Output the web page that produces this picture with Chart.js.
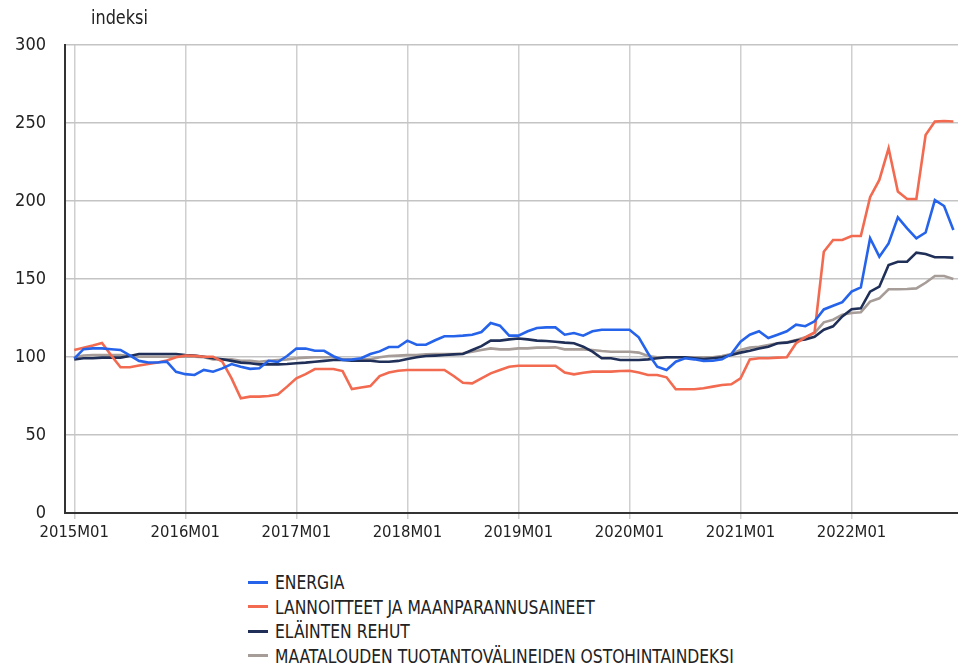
<!DOCTYPE html>
<html lang="fi">
<head>
<meta charset="utf-8">
<script src="https://cdn.jsdelivr.net/npm/chart.js@4"></script>
<style>
  body { margin: 0; background: #fff; width: 958px; height: 664px; overflow: hidden;
         font-family: 'DejaVu Sans Condensed', 'DejaVu Sans', sans-serif; color: #222; }
  #wrap { position: absolute; left: 0; top: 0; width: 958px; height: 560px; }
  #unit { position: absolute; left: 91px; top: 6px; font-size: 19px; transform: scaleX(0.94); transform-origin: left; }
  #legend { position: absolute; left: 248px; top: 570px; font-size: 19px; }
  .item { height: 24.5px; display: flex; align-items: center; }
  .sw { width: 20px; height: 3px; margin-right: 7px; }
  .tx { display: inline-block; transform: scaleX(0.91); transform-origin: left; white-space: nowrap; }
</style>
</head>
<body>
<div id="wrap"><canvas id="c"></canvas></div>
<div id="unit">indeksi</div>
<div id="legend"></div>
<script>
// year ticks (index of month from 2015M01) and their labels
const tickPos = [0, 12, 24, 36, 48, 60, 72, 84];
const tickLabels = ['2015M01', '2016M01', '2017M01', '2018M01', '2019M01', '2020M01', '2021M01', '2022M01'];
const yTicks = [0, 50, 100, 150, 200, 250, 300];

// monthly values 2015M01 .. 2022M12
const energia = [
  99, 105, 105.5, 105.5, 105, 104.5, 101, 97.5, 96.5, 96.5, 97, 90.5,
  89, 88.5, 91.7, 90.6, 92.7, 95.5, 93.8, 92.4, 92.8, 97.6, 96.8, 100.6,
  105.4, 105.4, 104, 104, 100.5, 98.1, 98.3, 99.2, 101.9, 103.6, 106.4, 106.4,
  110.5, 107.9, 107.9, 110.7, 113.3, 113.3, 113.7, 114.3, 116, 121.8, 120.1, 113.7,
  113.7, 116.5, 118.6, 119, 119, 114.3, 115.4, 113.7, 116.5, 117.5, 117.5, 117.5,
  117.5, 112.6, 102.4, 93.8, 91.7, 97, 99.2, 98.5, 97.5, 97.6, 98.5, 101.9,
  109.8, 114.3, 116.5, 112.2, 114.3, 116.5, 120.7, 119.7, 122.9, 130.5, 132.8, 135.2,
  141.9, 144.6, 176.1, 164.3, 172.8, 189.5, 182.5, 176.1, 179.8, 200.6, 196.8, 181.4
];
const lannoitteet = [
  104.5, 106, 107.4, 109, 101, 93.4, 93.4, 94.5, 95.5, 96.5, 97.7, 99.8,
  100.9, 100.7, 100.2, 100.2, 97, 86.3, 73.5, 74.6, 74.6, 75, 76, 81,
  86.3, 89, 92.3, 92.3, 92.3, 91, 79.5, 80.4, 81.4, 87.8, 90, 91.2,
  91.7, 91.7, 91.7, 91.7, 91.7, 87.8, 83.5, 83.1, 86.3, 89.5, 91.7, 93.8,
  94.4, 94.4, 94.4, 94.4, 94.4, 90, 88.9, 89.9, 90.6, 90.6, 90.6, 91,
  91.2, 90, 88.5, 88.5, 87, 79.3, 79.3, 79.3, 80, 81, 82.1, 82.5,
  86.3, 98.5, 99.2, 99.2, 99.6, 99.8, 108.8, 112.6, 115.8, 167.5, 175, 175,
  177.6, 177.6, 202.4, 213.5, 233.8, 206, 201.3, 201.3, 242.3, 250.9, 251.3, 251
];
const rehut = [
  98.5, 99.2, 99.2, 99.6, 99.6, 99.6, 100.6, 101.9, 101.9, 101.9, 101.9, 101.9,
  101.3, 100.9, 100.2, 99.2, 98.5, 97.5, 96.4, 96, 95.3, 95.3, 95.3, 95.5,
  96, 96.4, 97, 97.5, 98.1, 98.1, 97.6, 97.6, 97.6, 97, 97, 97.5,
  98.7, 99.8, 100.6, 100.9, 101.3, 101.7, 101.9, 104.5, 107, 110.5, 110.5, 111.3,
  111.9, 111.3, 110.5, 110.3, 109.8, 109.2, 108.8, 106.6, 103.4, 99.2, 99.2, 98.1,
  98.1, 98.1, 98.5, 99.2, 99.8, 99.8, 99.8, 99.2, 98.7, 99.2, 99.8, 101.3,
  102.8, 104, 105.5, 106.6, 108.8, 109.2, 110.5, 111.3, 113, 117.5, 119.7, 126,
  130.6, 131.2, 141.9, 145.1, 159, 161.1, 161.1, 166.9, 166, 163.9, 163.9, 163.7
];
const ostohinta = [
  99.8, 101, 101.3, 101.3, 101.3, 101.3, 100.6, 100.2, 100.2, 100.2, 100.2, 100.2,
  100.2, 100.2, 99.8, 98.5, 98.5, 98.5, 97.5, 97.5, 97, 97.5, 98, 98.5,
  99.2, 99.6, 99.8, 99.8, 99.8, 98.5, 98.5, 98.5, 98.5, 99.8, 100.6, 100.9,
  101.3, 101.3, 101.7, 101.9, 101.9, 101.9, 102.4, 103.4, 104.5, 105.5, 104.9, 104.9,
  105.5, 105.5, 106, 106, 106.2, 104.9, 104.9, 104.9, 104.5, 103.8, 103.4, 103.4,
  103.4, 102.8, 100.6, 99.8, 99.8, 99.8, 99.8, 99.8, 99.8, 99.8, 100.6, 101.9,
  104.5, 106, 106.6, 107.7, 108.8, 109.4, 110.9, 112.6, 115.4, 122.2, 123.9, 127.1,
  128.2, 128.7, 135.5, 137.6, 143.4, 143.4, 143.6, 144, 147.6, 151.9, 151.9, 150
];

const seriesNames = ['ENERGIA', 'LANNOITTEET JA MAANPARANNUSAINEET', 'ELÄINTEN REHUT', 'MAATALOUDEN TUOTANTOVÄLINEIDEN OSTOHINTAINDEKSI'];
const seriesData = [energia, lannoitteet, rehut, ostohinta];
const seriesColors = ['#2563eb', '#f26a50', '#1f2f57', '#a69c98'];

Chart.defaults.font.family = "'DejaVu Sans Condensed', 'DejaVu Sans', sans-serif";
Chart.defaults.color = '#222';

const datasets = seriesNames.map((name, i) => ({
  label: name,
  data: seriesData[i].map((v, j) => ({ x: j, y: v })),
  borderColor: seriesColors[i],
  backgroundColor: seriesColors[i],
  borderWidth: 2.6,
  pointRadius: 0,
  tension: 0,
}));

new Chart(document.getElementById('c'), {
  type: 'line',
  data: { datasets },
  options: {
    responsive: true,
    maintainAspectRatio: false,
    animation: false,
    layout: { padding: { top: 45, right: 0, left: 0, bottom: 0 } },
    plugins: { legend: { display: false }, tooltip: { enabled: false } },
    scales: {
      x: {
        type: 'linear', min: -1, max: 95.5,
        afterBuildTicks: s => { s.ticks = tickPos.map(v => ({ value: v })); },
        afterFit: s => { s.height = 47; },
        ticks: { autoSkip: false, maxRotation: 0, padding: 4, font: { size: 16.5 },
                 callback: v => tickLabels[tickPos.indexOf(v)] },
        grid: { color: '#cfcfcf', lineWidth: 1.5, tickLength: 6 },
        border: { color: '#333', width: 2 },
      },
      y: {
        min: 0, max: 300,
        afterBuildTicks: s => { s.ticks = yTicks.map(v => ({ value: v })); },
        afterFit: s => { s.width = 65; },
        ticks: { padding: 19, font: { size: 18 } },
        grid: { color: '#c4c4c4', lineWidth: 1.5, drawTicks: false },
        border: { color: '#333', width: 2 },
      },
    },
  },
});

// legend as a vertical list under the chart
const leg = document.getElementById('legend');
seriesNames.forEach((name, i) => {
  const row = document.createElement('div');
  row.className = 'item';
  row.innerHTML = `<span class="sw" style="background:${seriesColors[i]}"></span><span class="tx">${name}</span>`;
  leg.appendChild(row);
});
</script>
</body>
</html>
